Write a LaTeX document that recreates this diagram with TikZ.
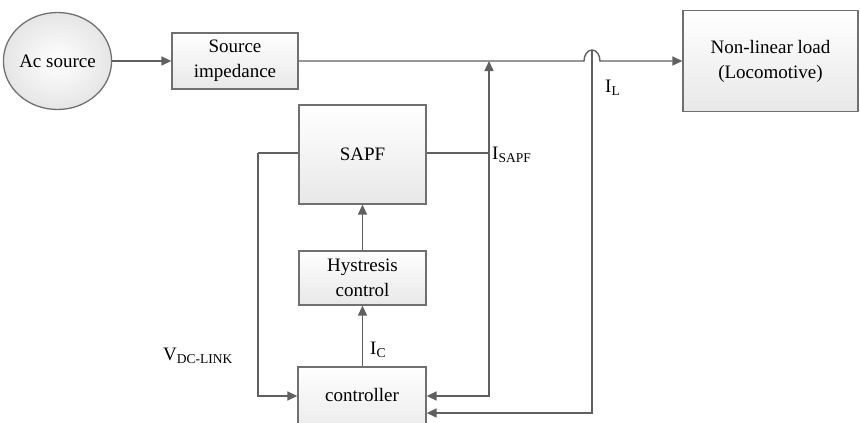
\documentclass[tikz,border=0pt]{standalone}
\usepackage{fontspec}
\setmainfont{Liberation Serif}
\usetikzlibrary{shapes.geometric,arrows.meta}
\definecolor{lnc}{HTML}{606060}
\definecolor{bdc}{HTML}{707070}
\newcommand{\subtxt}[1]{\raisebox{-0.32ex}{\fontsize{13.5}{13.5}\selectfont #1}}
\tikzset{
  box/.style={draw=bdc, line width=1.3pt, rectangle, top color=white, bottom color=black!9, align=center, inner sep=0pt, font=\fontsize{19}{25}\selectfont},
  conn/.style={draw=lnc, line width=1.4pt},
  arr/.style={conn, -{Triangle[length=10pt,width=9pt]}},
  lbl/.style={font=\fontsize{19}{22}\selectfont, inner sep=0pt, anchor=west}
}
\begin{document}
\begin{tikzpicture}[x=1pt,y=-1pt]
\useasboundingbox (0,0) rectangle (860,423);
\clip (0,0) rectangle (860,423);
\fill[white] (0,0) rectangle (860,423);
% nodes
\node[ellipse, draw=bdc, line width=1.3pt, inner color=white, outer color=black!10, minimum width=92pt, minimum height=97pt, inner sep=0pt, font=\fontsize{19}{22}\selectfont] (acs) at (57.5,61) {Ac source};
\node[box, minimum width=126pt, minimum height=56pt] (si) at (235,61) {Source\\impedance};
\node[box, minimum width=175pt, minimum height=101pt] (load) at (770.5,61) {Non-linear load\\(Locomotive)};
\node[box, minimum width=127pt, minimum height=99pt] (sapf) at (362.5,154.5) {SAPF};
\node[box, minimum width=127pt, minimum height=54pt] (hyst) at (362.5,278) {Hystresis\\control};
\node[box, minimum width=128pt, minimum height=70pt] (ctrl) at (362,402) {};
\node[font=\fontsize{19}{22}\selectfont, inner sep=0pt] (ctrltxt) at (362,395) {controller};
% coordinates
\coordinate (arcL) at (584,61);
\coordinate (arcT) at (592,50);
\coordinate (j1) at (489,61);
\coordinate (j2) at (489,153);
\coordinate (l1) at (258,153);
\coordinate (l2) at (258,396);
\coordinate (r1) at (489,396);
\coordinate (r2) at (592,413);
% main line
\draw[arr] (acs.east) -- (si.west);
\draw[arr] (si.east) -- (arcL) arc[start angle=180, end angle=0, x radius=8pt, y radius=11pt] -- (load.west);
% SAPF connections
\draw[conn] (sapf.west |- l1) -- (l1);
\draw[arr] (l1) -- (l2) -- (ctrl.west |- l2);
\draw[conn] (sapf.east |- j2) -- (j2);
\draw[arr] (j2) -- (j1);
\draw[arr] (j2) -- (r1) -- (ctrl.east |- r1);
\draw[arr] (arcT) -- (r2) -- (ctrl.east |- r2);
\draw[arr] (hyst.north) -- (sapf.south);
\draw[arr] (ctrl.north -| hyst.north) -- (hyst.south);
% labels
\node[lbl] (il) at (605,88) {I\subtxt{L}};
\node[lbl] (isapf) at (492,155) {I\subtxt{SAPF}};
\node[lbl] (ic) at (370,350) {I\subtxt{C}};
\node[lbl] (vdc) at (163,356) {V\subtxt{DC-LINK}};
\end{tikzpicture}
\end{document}
